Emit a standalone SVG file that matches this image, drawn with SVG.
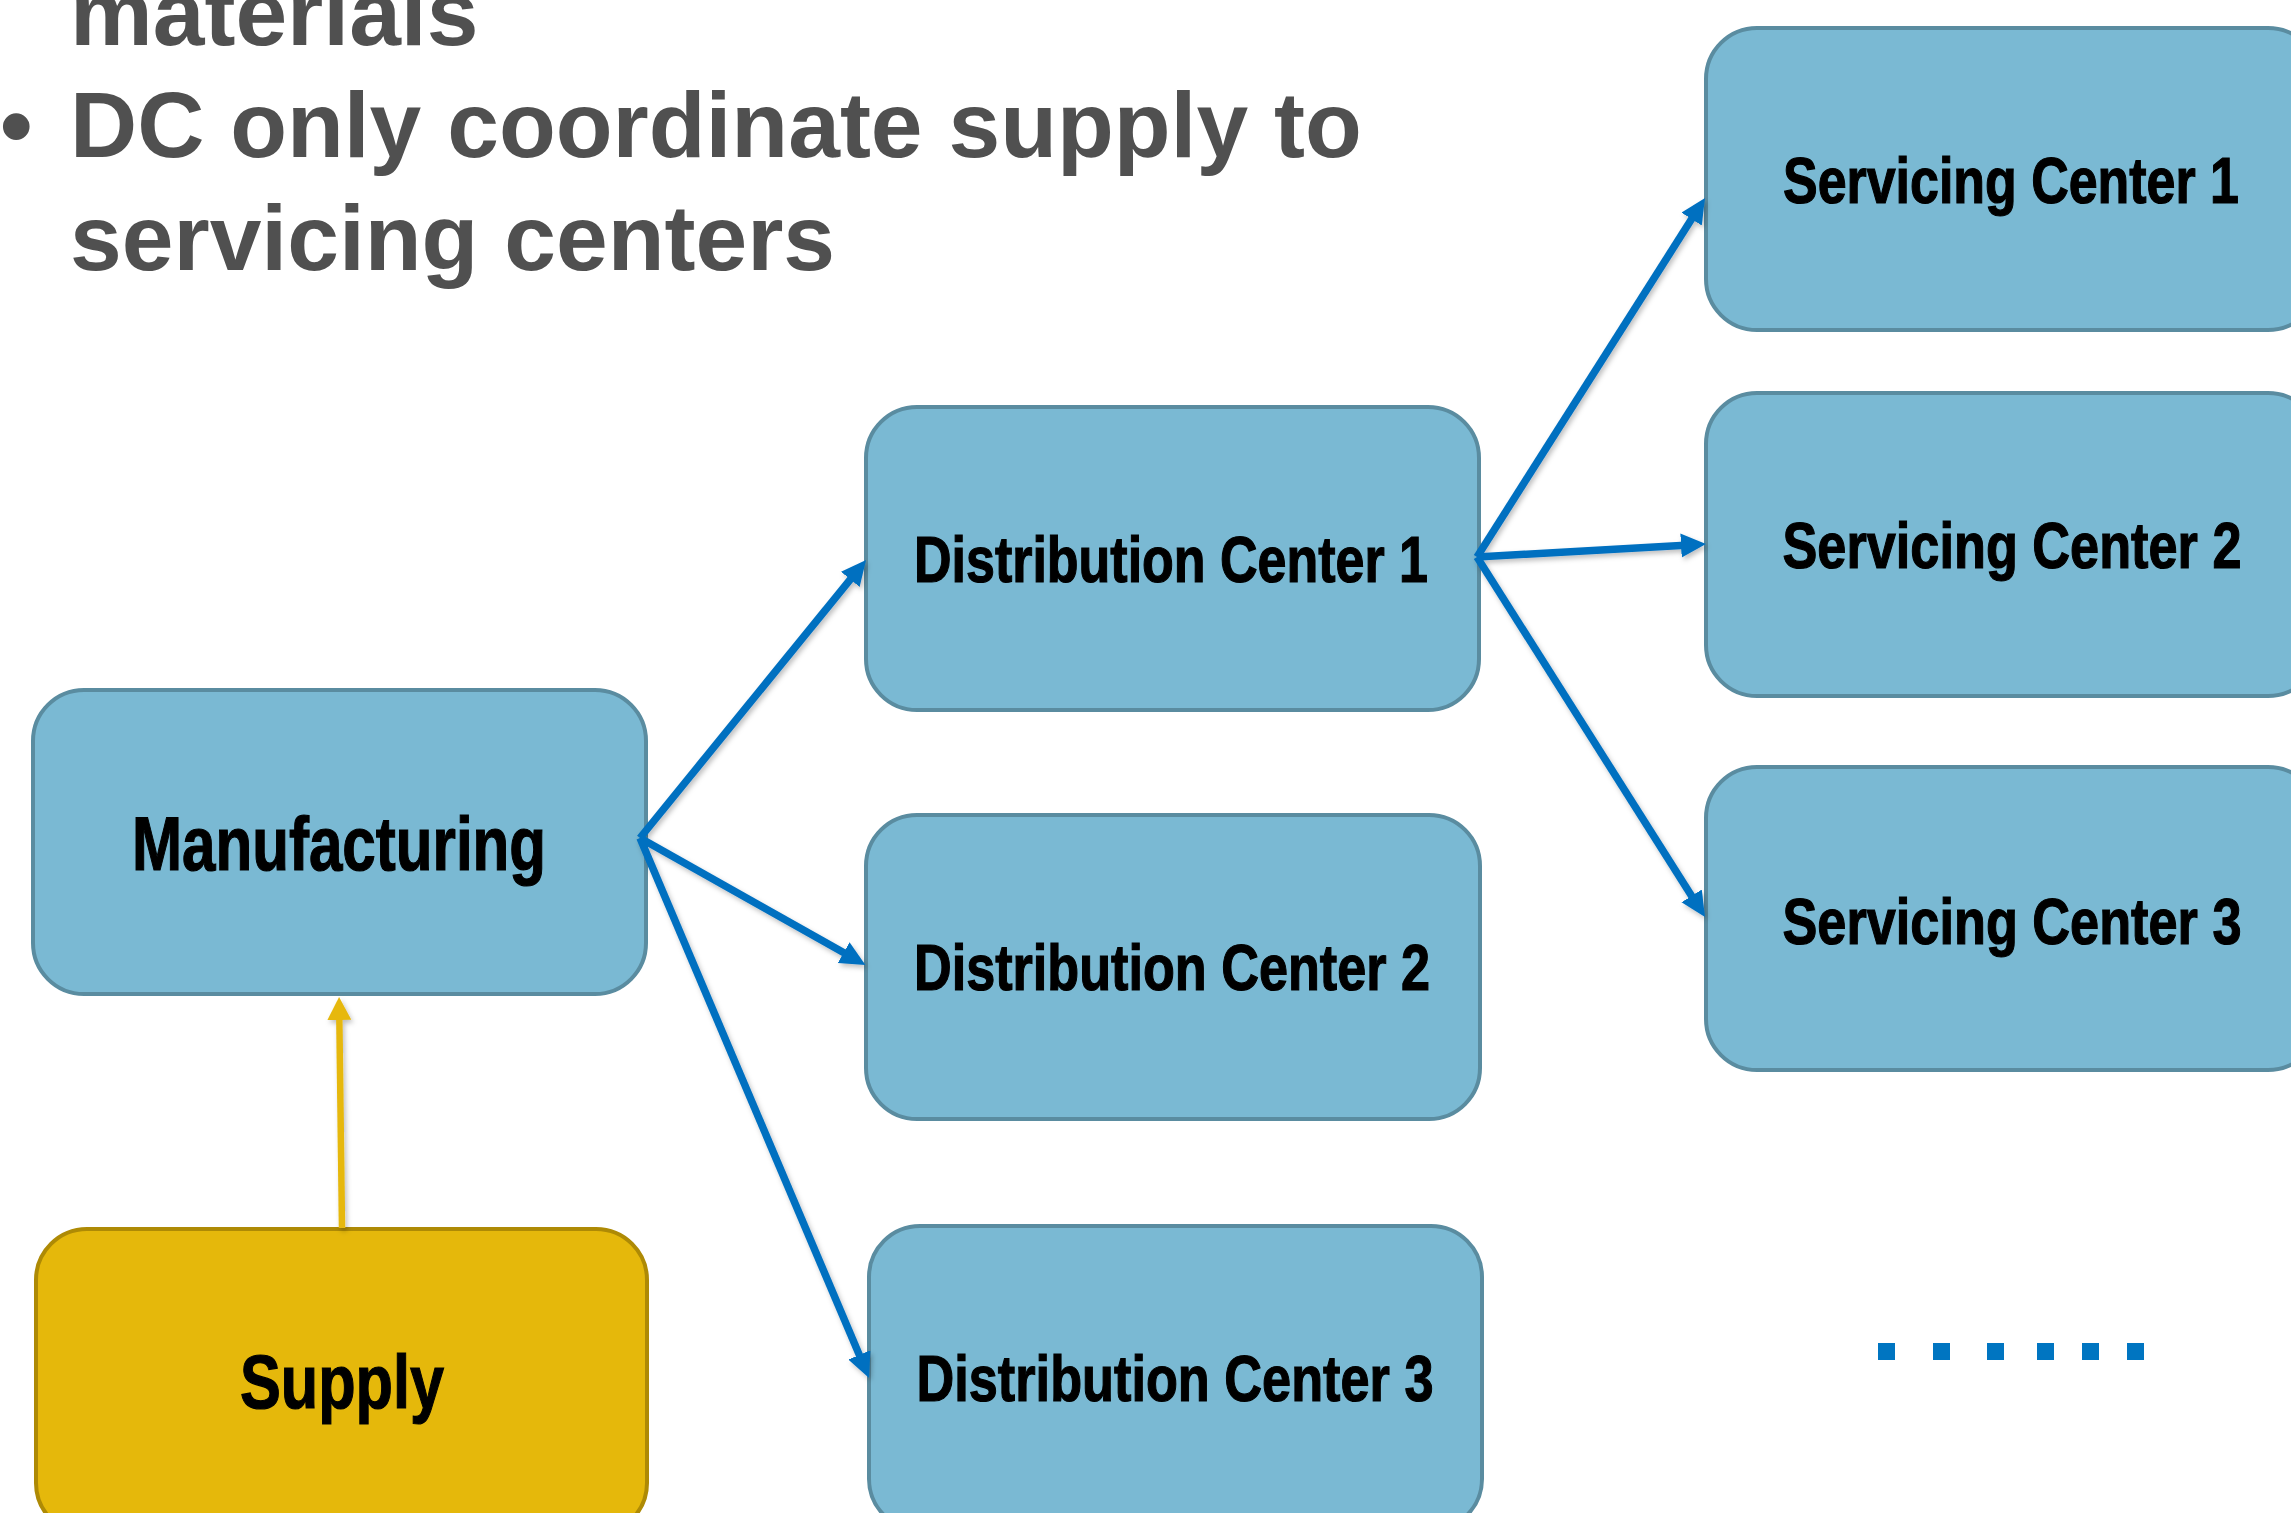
<svg xmlns="http://www.w3.org/2000/svg" width="2291" height="1513" viewBox="0 0 2291 1513">
  <style>
    .title { font-family: "Liberation Sans", Arial, sans-serif; font-weight: bold; font-size: 93px; fill: #505050; }
    .box { fill: #7AB9D3; stroke: #5A8CA0; stroke-width: 4; }
    .supply { fill: #E5B80B; stroke: #AE8A05; stroke-width: 4; }
    .label { font-family: "Liberation Sans", Arial, sans-serif; font-weight: bold; fill: #000; stroke: #000; stroke-width: 1.2; text-anchor: middle; }
    .big { font-size: 76px; }
    .small { font-size: 64px; }
    .flow { fill: none; stroke: #0070C0; stroke-width: 7.5; marker-end: url(#arrowBlue); }
    .feed { fill: none; stroke: #E6B80C; stroke-width: 6.5; marker-end: url(#arrowGold); }
    .dot { fill: #0075C1; }
  </style>
  <defs>
    <filter id="lineShadow" x="-10%" y="-10%" width="120%" height="120%">
      <feDropShadow dx="2" dy="3" stdDeviation="2.5" flood-color="#000" flood-opacity="0.25"/>
    </filter>
    <marker id="arrowBlue" markerUnits="userSpaceOnUse" markerWidth="26" markerHeight="26" refX="13" refY="12" orient="auto">
      <path d="M0,0 L25,12 L0,24 Z" fill="#0070C0"/>
    </marker>
    <marker id="arrowGold" markerUnits="userSpaceOnUse" markerWidth="26" markerHeight="26" refX="12" refY="12" orient="auto">
      <path d="M0,0 L23,12 L0,24 Z" fill="#E6B80C"/>
    </marker>
  </defs>

  <rect width="2291" height="1513" fill="#FFFFFF"/>

  <!-- bullet text -->
  <g id="bullets">
    <text class="title" x="70" y="45">materials</text>
    <text class="title" x="0" y="157">•</text>
    <text class="title" x="70" y="157">DC only coordinate supply to</text>
    <text class="title" x="70" y="270">servicing centers</text>
  </g>

  <g id="manufacturing">
    <rect class="box" x="33" y="690" width="613" height="304" rx="51"/>
    <text class="label big" x="339" y="870" textLength="414" lengthAdjust="spacingAndGlyphs">Manufacturing</text>
  </g>

  <g id="supply">
    <rect class="supply" x="36" y="1229" width="611" height="305" rx="51"/>
    <text class="label big" x="342" y="1408" textLength="204" lengthAdjust="spacingAndGlyphs">Supply</text>
  </g>

  <g id="dc1">
    <rect class="box" x="866" y="407" width="613" height="303" rx="51"/>
    <text class="label small" x="1171" y="582" textLength="514" lengthAdjust="spacingAndGlyphs">Distribution Center 1</text>
  </g>

  <g id="dc2">
    <rect class="box" x="866" y="815" width="614" height="304" rx="51"/>
    <text class="label small" x="1172" y="990" textLength="516" lengthAdjust="spacingAndGlyphs">Distribution Center 2</text>
  </g>

  <g id="dc3">
    <rect class="box" x="869" y="1226" width="613" height="304" rx="51"/>
    <text class="label small" x="1175" y="1401" textLength="517" lengthAdjust="spacingAndGlyphs">Distribution Center 3</text>
  </g>

  <g id="sc1">
    <rect class="box" x="1706" y="28" width="613" height="302" rx="51"/>
    <text class="label small" x="2011" y="203" textLength="456" lengthAdjust="spacingAndGlyphs">Servicing Center 1</text>
  </g>

  <g id="sc2">
    <rect class="box" x="1706" y="393" width="613" height="303" rx="51"/>
    <text class="label small" x="2012" y="568" textLength="459" lengthAdjust="spacingAndGlyphs">Servicing Center 2</text>
  </g>

  <g id="sc3">
    <rect class="box" x="1706" y="767" width="613" height="303" rx="51"/>
    <text class="label small" x="2012" y="944" textLength="459" lengthAdjust="spacingAndGlyphs">Servicing Center 3</text>
  </g>

  <!-- more servicing centers -->
  <g id="ellipsis">
    <rect class="dot" x="1878" y="1343" width="17" height="17"/>
    <rect class="dot" x="1933" y="1343" width="17" height="17"/>
    <rect class="dot" x="1987" y="1343" width="17" height="17"/>
    <rect class="dot" x="2037" y="1343" width="17" height="17"/>
    <rect class="dot" x="2082" y="1343" width="17" height="17"/>
    <rect class="dot" x="2127" y="1343" width="17" height="17"/>
  </g>

  <g id="connectors" filter="url(#lineShadow)">
    <line class="flow" x1="640" y1="838" x2="858.5" y2="569.3"/>
    <line class="flow" x1="640" y1="838" x2="855" y2="959"/>
    <line class="flow" x1="640" y1="838" x2="864.4" y2="1366.9"/>
    <line class="flow" x1="1477" y1="557" x2="1698.6" y2="208.1"/>
    <line class="flow" x1="1477" y1="557" x2="1694" y2="544.7"/>
    <line class="flow" x1="1477" y1="557" x2="1698.6" y2="906.9"/>
    <line class="feed" x1="342" y1="1228" x2="339.2" y2="1008"/>
  </g>
</svg>
